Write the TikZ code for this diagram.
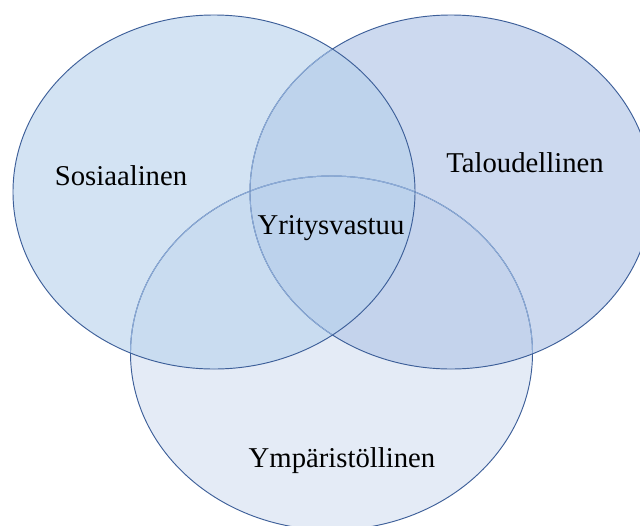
\documentclass[tikz,border=0pt]{standalone}
\usepackage{fontspec}
\setmainfont{Liberation Serif}
\definecolor{cL}{HTML}{D3E3F3}
\definecolor{cR}{HTML}{CCD9EF}
\definecolor{cB}{HTML}{E4EBF6}
\definecolor{cLR}{HTML}{BED3EC}
\definecolor{cLB}{HTML}{C9DCF0}
\definecolor{cRB}{HTML}{C4D3EC}
\definecolor{cLRB}{HTML}{BCD2EC}
\definecolor{edge}{HTML}{3D5F99}
\definecolor{edgelight}{HTML}{8EADD8}
\tikzset{
  lab/.style={font=\fontsize{24.5}{29}\selectfont, anchor=base, inner sep=0pt, text=black},
  outline/.style={draw=edge, line width=0.8pt},
  outlinelight/.style={draw=edgelight, line width=0.8pt}
}
\def\ellL{(214,192) ellipse [x radius=6.03cm, y radius=5.31cm]}
\def\ellR{(451,192) ellipse [x radius=6.03cm, y radius=5.31cm]}
\def\ellB{(331.5,353) ellipse [x radius=6.03cm, y radius=5.31cm]}
\begin{document}
\begin{tikzpicture}[x=0.03cm, y=-0.03cm]
\useasboundingbox (0,0) rectangle (640,525);
\fill[white] (0,0) rectangle (640,525);
\begin{scope}
\clip (0,0) rectangle (640,525);
% single areas
\fill[cB] \ellB;
\fill[cR] \ellR;
\fill[cL] \ellL;
% pairwise
\begin{scope}\clip \ellL; \fill[cLR] \ellR; \end{scope}
\begin{scope}\clip \ellL; \fill[cLB] \ellB; \end{scope}
\begin{scope}\clip \ellR; \fill[cRB] \ellB; \end{scope}
\begin{scope}\clip \ellL; \clip \ellR; \fill[cLRB] \ellB; \end{scope}
% outlines
\path[outline] \ellB;
\begin{scope}\clip \ellL; \path[outlinelight] \ellB; \end{scope}
\begin{scope}\clip \ellR; \path[outlinelight] \ellB; \end{scope}
\path[outline] \ellR;
\begin{scope}\clip \ellL; \path[outlinelight] \ellR; \end{scope}
\path[outline] \ellL;
\end{scope}
% labels
\node[lab] (sos) at (121,185) {Sosiaalinen};
\node[lab] (tal) at (525,172) {Taloudellinen};
\node[lab] (yri) at (331,234) {Yritysvastuu};
\node[lab] (ymp) at (342,467) {Ympäristöllinen};
\end{tikzpicture}
\end{document}
